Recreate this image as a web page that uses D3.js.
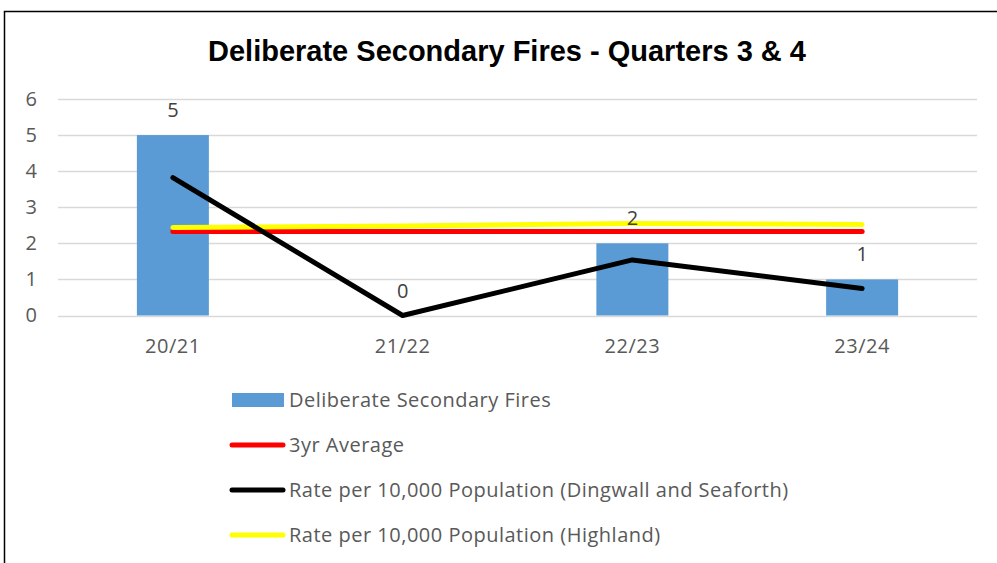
<!DOCTYPE html>
<html>
<head>
<meta charset="utf-8">
<script src="https://cdn.jsdelivr.net/npm/d3@7"></script>
<style>
  body { margin: 0; background: #fff; }
  svg text { font-family: "Open Sans", sans-serif; }
</style>
</head>
<body>
<div id="chart"></div>
<script>
// chart values
var categories = ["20/21", "21/22", "22/23", "23/24"];
var fires      = [5, 0, 2, 1];
var avg3yr     = [2.33, 2.33, 2.33, 2.33];
var rateLocal  = [3.82, 0, 1.54, 0.75];
var rateHigh   = [2.44, 2.48, 2.55, 2.52];
var yTicks     = [0, 1, 2, 3, 4, 5, 6];

var W = 997, H = 563;

var svg = d3.select("#chart").append("svg")
    .attr("width", W).attr("height", H);

// outer chart border
svg.append("rect").attr("x", 4.5).attr("y", 11.5)
    .attr("width", W + 10).attr("height", H + 10)
    .attr("fill", "#fff").attr("stroke", "#000").attr("stroke-width", 1.5);

svg.append("text").attr("x", 507).attr("y", 61)
    .attr("text-anchor", "middle")
    .style("font-family", "'Liberation Sans', Arial, sans-serif")
    .style("font-weight", "bold").style("font-size", "29px")
    .text("Deliberate Secondary Fires - Quarters 3 & 4");

var x = d3.scaleBand().domain(categories).range([58, 977]);
var y = d3.scaleLinear().domain([0, 6]).range([315.5, 99]);
var xc = function(c) { return x(c) + x.bandwidth() / 2; };

// gridlines
svg.append("g").selectAll("line").data(yTicks).enter().append("line")
    .attr("x1", 58).attr("x2", 977)
    .attr("y1", function(d) { return Math.round(y(d)) + 0.5; })
    .attr("y2", function(d) { return Math.round(y(d)) + 0.5; })
    .attr("stroke", "#d9d9d9").attr("stroke-width", 1.5);

// y axis labels
var yAxis = d3.axisLeft(y).tickValues(yTicks).tickFormat(d3.format("d")).tickSize(0).tickPadding(0);
var gy = svg.append("g").attr("transform", "translate(37,0)").call(yAxis);
gy.select(".domain").remove();
gy.selectAll("text").attr("font-family", null).style("font-size", "20px").attr("fill", "#595959");

// x axis labels
var xAxis = d3.axisBottom(x).tickSize(0).tickPadding(0);
var gx = svg.append("g").attr("transform", "translate(0,339)").call(xAxis);
gx.select(".domain").remove();
gx.selectAll("text").attr("font-family", null).style("font-size", "20px")
    .style("letter-spacing", "0.5px").attr("fill", "#595959");

// bars
var bw = 72;
svg.append("g").selectAll("rect").data(fires).enter().append("rect")
    .attr("x", function(d, i) { return xc(categories[i]) - bw / 2; })
    .attr("y", function(d) { return y(d); })
    .attr("width", bw)
    .attr("height", function(d) { return y(0) - y(d); })
    .attr("fill", "#5b9bd5");

// lines
var line = d3.line()
    .x(function(d, i) { return xc(categories[i]); })
    .y(function(d) { return y(d); });

var series = [
  {vals: avg3yr, color: "#ff0000"},
  {vals: rateHigh, color: "#ffff00"},
  {vals: rateLocal, color: "#000000"}
];
svg.append("g").selectAll("path").data(series).enter().append("path")
    .attr("d", function(s) { return line(s.vals); })
    .attr("fill", "none").attr("stroke", function(s) { return s.color; })
    .attr("stroke-width", 5).attr("stroke-linecap", "round").attr("stroke-linejoin", "round");

// data labels on bars
svg.append("g").selectAll("text").data(fires).enter().append("text")
    .attr("x", function(d, i) { return xc(categories[i]); })
    .attr("y", function(d) { return y(d) - 18; })
    .attr("text-anchor", "middle")
    .style("font-size", "20px").attr("fill", "#404040")
    .text(function(d) { return d; });

// legend
var legendItems = [
  {label: "Deliberate Secondary Fires", type: "bar", color: "#5b9bd5"},
  {label: "3yr Average", type: "line", color: "#ff0000"},
  {label: "Rate per 10,000 Population (Dingwall and Seaforth)", type: "line", color: "#000000"},
  {label: "Rate per 10,000 Population (Highland)", type: "line", color: "#ffff00"}
];
var lg = svg.append("g").selectAll("g").data(legendItems).enter().append("g")
    .attr("transform", function(d, i) { return "translate(0," + (400 + i * 45) + ")"; });
lg.filter(function(d) { return d.type === "bar"; }).append("rect")
    .attr("x", 232).attr("y", -7).attr("width", 52).attr("height", 14)
    .attr("fill", function(d) { return d.color; });
lg.filter(function(d) { return d.type === "line"; }).append("line")
    .attr("x1", 232).attr("x2", 283).attr("y1", 0).attr("y2", 0)
    .attr("stroke", function(d) { return d.color; })
    .attr("stroke-width", 5).attr("stroke-linecap", "round");
lg.append("text").attr("x", 289).attr("y", 0).attr("dy", "0.35em")
    .style("font-size", "20px").style("letter-spacing", "0.5px").attr("fill", "#595959")
    .text(function(d) { return d.label; });
</script>
</body>
</html>
